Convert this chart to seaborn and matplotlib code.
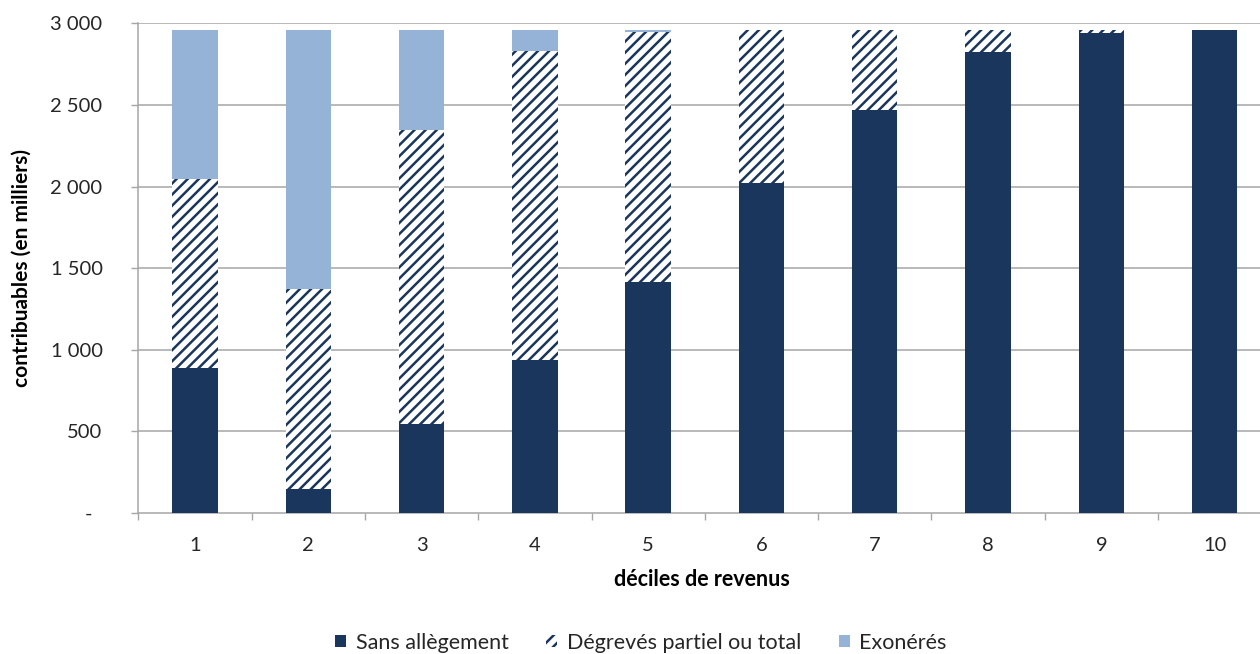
import matplotlib
matplotlib.use("Agg")
import matplotlib.pyplot as plt
import matplotlib.patches as mpatches
import seaborn as sns
import numpy as np

deciles = ["1", "2", "3", "4", "5", "6", "7", "8", "9", "10"]
sans_allegement = [887, 144, 543, 940, 1415, 2020, 2470, 2825, 2941, 2960]
degreves = [1161, 1228, 1804, 1893, 1530, 940, 490, 135, 19, 0]
exoneres = [912, 1588, 613, 127, 15, 0, 0, 0, 0, 0]
yticks = [0, 500, 1000, 1500, 2000, 2500, 3000]
ytick_labels = ["-  ", "500", "1 000", "1 500", "2 000", "2 500", "3 000"]
legend_labels = ["Sans allègement", "Dégrevés partiel ou total", "Exonérés"]

dark = "#1A365D"
light = "#95B3D7"
grey = "#A6A6A6"
txt = "#262626"

sns.set_theme(style="white")
plt.rcParams["font.family"] = ["Lato", "DejaVu Sans"]
plt.rcParams["hatch.linewidth"] = 1.8

s = np.array(sans_allegement)
d = np.array(degreves)
e = np.array(exoneres)
cum2 = s + d
cum3 = s + d + e

fig = plt.figure(figsize=(12.6, 6.54), dpi=100)
W, H = 1260, 654
ax = fig.add_axes([138.3 / W, (H - 513) / H, 1133 / W, 489.7 / H])

ax.set_axisbelow(True)
for y in yticks[1:]:
    ax.axhline(y, color=grey, lw=1.1, zorder=0)

sns.barplot(x=deciles, y=cum3, color=light, saturation=1, width=0.4,
            linewidth=0, ax=ax, zorder=2)
sns.barplot(x=deciles, y=cum2, color="white", saturation=1, width=0.4,
            edgecolor=dark, linewidth=0, hatch="///", ax=ax, zorder=3)
sns.barplot(x=deciles, y=s, color=dark, saturation=1, width=0.4,
            linewidth=0, ax=ax, zorder=4)

ax.set_xlim(-0.5, 9.5)
ax.set_ylim(0, 3000)
ax.set_yticks(yticks)
ax.set_yticklabels(ytick_labels, fontsize=14.5, color=txt)
ax.tick_params(axis="y", which="major", length=4.7, width=1, color=grey,
               left=True, pad=21)
ax.set_xticks(range(len(deciles)))
ax.set_xticklabels(deciles, fontsize=14.5, color=txt)
ax.set_xticks(np.arange(-0.5, 10.0, 1.0), minor=True)
ax.tick_params(axis="x", which="major", length=0, pad=17)
ax.tick_params(axis="x", which="minor", length=5, width=1, color=grey,
               bottom=True, direction="out")

for side in ["top", "right"]:
    ax.spines[side].set_visible(False)
for side in ["left", "bottom"]:
    ax.spines[side].set_color(grey)
    ax.spines[side].set_linewidth(1.1)

ax.set_xlabel("")
ax.set_ylabel("")
fig.text(22 / W, 1 - 268 / H, "contribuables (en milliers)", rotation=90,
         fontsize=15, fontweight="bold", color="black", ha="center", va="center")
fig.text(702 / W, 1 - 579 / H, "déciles de revenus", fontsize=15.5,
         fontweight="bold", color="black", ha="center", va="center")

handles = [
    mpatches.Patch(facecolor=dark, edgecolor=dark, linewidth=0),
    mpatches.Patch(facecolor="white", edgecolor=dark, hatch="///", linewidth=0),
    mpatches.Patch(facecolor=light, edgecolor=light, linewidth=0),
]
fig.legend(handles, legend_labels, loc="center", bbox_to_anchor=(641 / W, 1 - 643 / H),
           ncol=3, frameon=False, fontsize=15.5, handlelength=0.5, handleheight=0.5,
           handletextpad=0.45, columnspacing=1.75, labelcolor=txt,
           borderpad=0, borderaxespad=0)

fig.savefig("out.png", dpi=100)
